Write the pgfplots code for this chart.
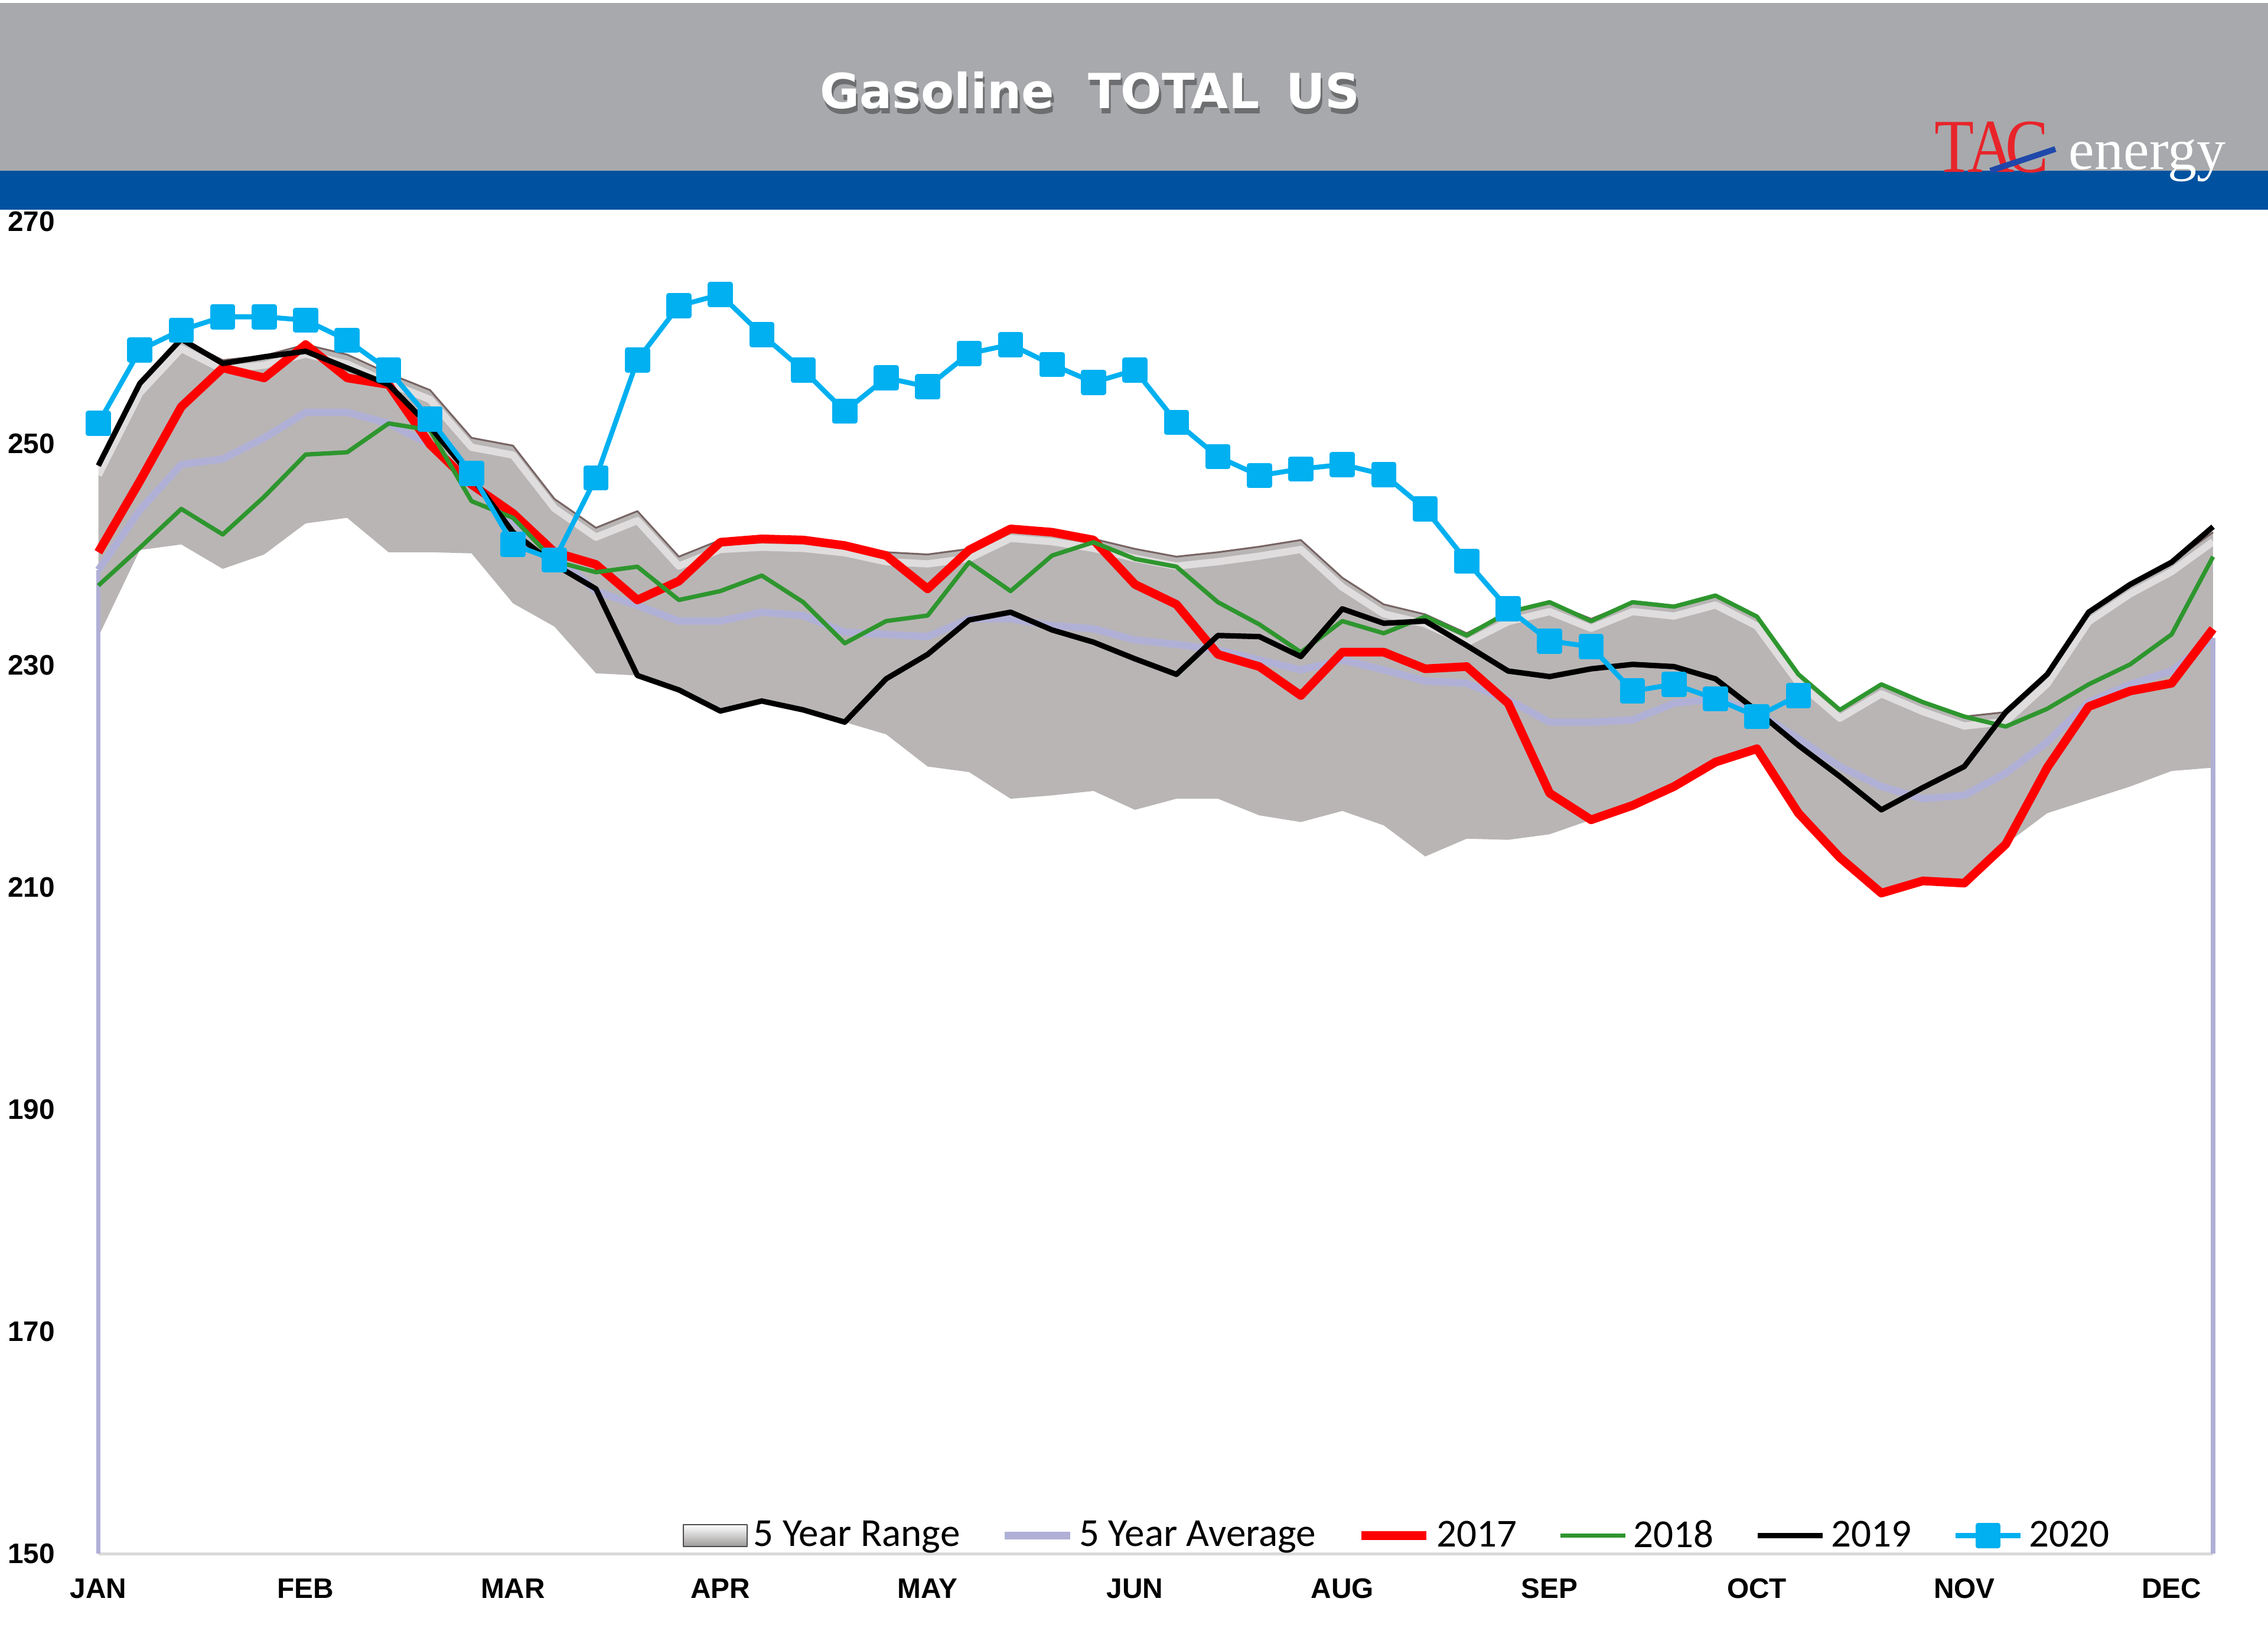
\documentclass[border=0pt]{standalone}
\usepackage{pgfplots}
\pgfplotsset{compat=1.18}
\usepackage{pgfplotstable}
\usepackage{fontspec}
\setmainfont{Liberation Sans}
\newfontfamily\titlefont{DejaVu Sans}
\newfontfamily\legfont{Carlito}
\newfontfamily\logofont{Liberation Serif}[FakeStretch=0.85]
\newfontfamily\logofontb{Liberation Serif}
\newcommand\tickfont{\fontsize{11.1}{13}\selectfont\bfseries}

\definecolor{hdrgray}{RGB}{167,169,172}
\definecolor{hdrblue}{RGB}{0,82,160}
\definecolor{rangegray}{RGB}{185,181,181}
\definecolor{rangeedge}{RGB}{120,100,100}
\definecolor{avgcol}{RGB}{176,176,214}
\definecolor{c17}{RGB}{255,0,0}
\definecolor{c18}{RGB}{46,150,46}
\definecolor{c20}{RGB}{0,176,240}
\definecolor{tacred}{RGB}{232,36,42}
\definecolor{tacblue}{RGB}{30,72,170}

\pgfplotstableread{
wk up lo avg r17 g18 b19 c20
0 248.0 232.6 238.6 240.2 237.2 248.0 251.8
1 255.4 240.4 244.0 246.6 240.6 255.4 258.4
2 259.4 240.9 248.1 253.3 244.1 259.4 260.2
3 257.5 238.7 248.6 256.8 241.8 257.2 261.4
4 257.9 240.0 250.5 255.9 245.2 257.8 261.4
5 258.9 242.8 252.8 258.9 249.0 258.3 261.1
6 258.0 243.3 252.8 255.9 249.2 256.8 259.3
7 256.3 240.2 251.8 255.3 251.8 255.3 256.6
8 254.8 240.2 249.9 249.9 251.2 251.5 252.2
9 250.5 240.1 246.5 246.3 244.8 247.0 247.3
10 249.8 235.6 243.0 243.7 243.3 242.0 240.9
11 245.0 233.5 240.0 240.2 239.4 239.1 239.5
12 242.4 229.3 236.7 239.1 238.4 236.9 246.9
13 243.9 229.1 235.4 235.9 238.9 229.1 257.5
14 239.8 227.8 234.0 237.6 235.9 227.8 262.4
15 241.3 225.9 234.0 241.1 236.7 225.9 263.4
16 241.5 226.8 234.8 241.4 238.1 226.8 259.8
17 241.4 226.0 234.5 241.3 235.7 226.0 256.6
18 241.0 224.9 233.0 240.8 232.0 224.9 252.9
19 240.2 223.8 232.8 239.9 234.0 228.8 255.9
20 240.0 220.9 232.6 236.9 234.5 231.0 255.1
21 240.5 220.4 234.2 240.4 239.3 234.1 258.1
22 242.3 218.0 234.2 242.3 236.7 234.8 258.9
23 242.0 218.3 233.6 242.0 239.9 233.2 257.1
24 241.4 218.7 233.3 241.3 241.1 232.1 255.5
25 240.5 217.0 232.3 237.3 239.6 230.6 256.6
26 239.8 218.0 231.9 235.5 238.9 229.2 251.9
27 240.2 218.0 231.4 231.0 235.7 232.7 248.8
28 240.7 216.5 230.5 229.9 233.7 232.6 247.1
29 241.3 215.9 229.6 227.3 231.2 230.8 247.7
30 237.9 216.9 230.5 231.2 234.0 235.1 248.1
31 235.5 215.6 229.6 231.2 232.9 233.8 247.2
32 234.6 212.8 228.6 229.7 234.4 234.0 244.1
33 232.9 214.4 228.4 229.9 232.7 231.8 239.4
34 234.8 214.3 226.9 226.6 234.8 229.5 235.1
35 235.7 214.8 224.9 218.5 235.7 229.0 232.2
36 234.2 216.1 224.9 216.1 234.0 229.7 231.7
37 235.7 217.4 225.1 217.4 235.7 230.1 227.7
38 235.3 219.1 226.6 219.1 235.3 229.9 228.3
39 236.3 221.3 227.0 221.3 236.3 228.8 227.0
40 234.4 222.5 225.8 222.5 234.4 225.9 225.4
41 229.3 216.7 223.4 216.7 229.2 222.8 227.3
42 226.1 212.7 220.9 212.7 226.0 220.0 nan
43 228.3 209.5 219.1 209.5 228.3 217.0 nan
44 226.7 210.6 218.0 210.6 226.7 219.0 nan
45 225.4 210.4 218.3 210.4 225.4 220.9 nan
46 225.8 213.9 220.3 213.9 224.5 225.8 nan
47 229.2 216.7 223.1 220.8 226.1 229.2 nan
48 234.8 217.9 226.7 226.3 228.3 234.8 nan
49 237.3 219.1 228.3 227.7 230.1 237.3 nan
50 239.3 220.5 229.5 228.4 232.8 239.3 nan
51 242.0 220.8 232.5 233.3 239.8 242.5 nan
}\data

% 5-year range polygon: upper edge forward, lower edge backward
\pgfplotstableread{
x y
0 248.0
1 255.4
2 259.4
3 257.5
4 257.9
5 258.9
6 258.0
7 256.3
8 254.8
9 250.5
10 249.8
11 245.0
12 242.4
13 243.9
14 239.8
15 241.3
16 241.5
17 241.4
18 241.0
19 240.2
20 240.0
21 240.5
22 242.3
23 242.0
24 241.4
25 240.5
26 239.8
27 240.2
28 240.7
29 241.3
30 237.9
31 235.5
32 234.6
33 232.9
34 234.8
35 235.7
36 234.2
37 235.7
38 235.3
39 236.3
40 234.4
41 229.3
42 226.1
43 228.3
44 226.7
45 225.4
46 225.8
47 229.2
48 234.8
49 237.3
50 239.3
51 242.0
51 220.8
50 220.5
49 219.1
48 217.9
47 216.7
46 213.9
45 210.4
44 210.6
43 209.5
42 212.7
41 216.7
40 222.5
39 221.3
38 219.1
37 217.4
36 216.1
35 214.8
34 214.3
33 214.4
32 212.8
31 215.6
30 216.9
29 215.9
28 216.5
27 218.0
26 218.0
25 217.0
24 218.7
23 218.3
22 218.0
21 220.4
20 220.9
19 223.8
18 224.9
17 226.0
16 226.8
15 225.9
14 227.8
13 229.1
12 229.3
11 233.5
10 235.6
9 240.1
8 240.2
7 240.2
6 243.3
5 242.8
4 240.0
3 238.7
2 240.9
1 240.4
0 232.6
}\rng

\begin{document}
\begin{tikzpicture}
\useasboundingbox (0,0) rectangle (313.6mm,-227.2mm);
\fill[white] (0,0) rectangle (313.6mm,-227.2mm);
% header
\fill[hdrgray] (0,-0.4mm) rectangle (313.6mm,-23.6mm);
\fill[hdrblue] (0,-23.6mm) rectangle (313.6mm,-29mm);
% title with shadow
\node[anchor=base, inner sep=0pt, text=black, opacity=0.35,
      font=\titlefont\bfseries\fontsize{19}{22}\selectfont]
  at (151.0mm,-15.7mm) {Gasoline\hspace{0.7em}TOTAL\hspace{0.55em}US};
\node[anchor=base, inner sep=0pt, text=white,
      font=\titlefont\bfseries\fontsize{19}{22}\selectfont]
  at (150.7mm,-15mm) {Gasoline\hspace{0.7em}TOTAL\hspace{0.55em}US};
% logo
\node[anchor=base west, inner sep=0pt, text=tacred,
      font=\logofont\fontsize{30}{32}\selectfont]
  at (267.4mm,-23.8mm) {T\kern-0.08em A\kern-0.12em C};
\node[anchor=base west, inner sep=0pt, text=white,
      font=\logofontb\fontsize{22.8}{25}\selectfont]
  at (286.0mm,-23.4mm) {energy};
\draw[tacblue, line width=0.8mm] (275.2mm,-23.6mm) -- (284.2mm,-20.6mm);

\begin{axis}[
  at={(13.6mm,-214.8mm)}, anchor=south west,
  scale only axis, width=292.4mm, height=184.2mm,
  xmin=0, xmax=51, ymin=150, ymax=270,
  clip=false,
  axis x line*=bottom, axis y line*=left,
  y axis line style={draw=none},
  x axis line style={draw=gray!30, line width=0.4mm},
  major tick length=0pt, tick style={draw=none},
  ytick={150,170,190,210,230,250,270},
  xtick={0,5,10,15,20,25,30,35,40,45,50},
  xticklabels={JAN,FEB,MAR,APR,MAY,JUN,AUG,SEP,OCT,NOV,DEC},
  ticklabel style={font=\tickfont},
  /pgf/number format/assume math mode=true,
  /pgf/number format/set thousands separator={},
  yticklabel style={anchor=west, inner sep=0pt, xshift=-12.6mm},
  xticklabel style={anchor=center, inner sep=0pt, yshift=-4.8mm},
  legend style={at={(0.2763,0.0136)}, anchor=west, draw=none, fill=none,
    inner sep=0pt, outer sep=0pt,
    font=\legfont\fontsize{15.6}{18}\selectfont,
    nodes={inner sep=0pt},
    /tikz/every odd column/.append style={column sep=0.8mm},
    /tikz/every even column/.append style={column sep=5.7mm}},
  legend columns=-1,
  legend image code/.code={\draw[mark repeat=2, mark phase=2, #1]
     plot coordinates {(0mm,0mm) (4.5mm,0mm) (9mm,0mm)};},
  every axis plot/.append style={line join=round},
]
\addplot[fill=rangegray, draw=none,
  legend image code/.code={\draw[draw=gray!60!black, line width=0.2mm,
     top color=white, bottom color=rangegray!85!black]
     (0mm,-1.5mm) rectangle (8.8mm,1.5mm);}]
  table[x=x,y=y]{\rng};
\addlegendentry{5 Year Range}
% bevel highlight under the upper edge of the range
\addplot[white, opacity=0.55, line width=1.0mm, forget plot]
  table[x=wk, y expr=\thisrow{up}-0.85]{\data};
\addplot[rangeedge, line width=0.25mm, forget plot] table[x=wk,y=up]{\data};
% 5 year average
\addplot[avgcol, line width=0.6mm, forget plot] coordinates {(0,150) (0,238.6)};
\addplot[avgcol, line width=0.6mm, forget plot] coordinates {(51,232.5) (51,150)};
\addplot[avgcol, line width=1.0mm] table[x=wk,y=avg]{\data};
\addlegendentry{5 Year Average}
\addplot[c17, line width=1.2mm] table[x=wk,y=r17]{\data};
\addlegendentry{2017}
\addplot[c18, line width=0.6mm] table[x=wk,y=g18]{\data};
\addlegendentry{2018}
\addplot[black, line width=0.75mm] table[x=wk,y=b19]{\data};
\addlegendentry{2019}
\addplot[c20, line width=0.68mm, mark=square*, mark size=1.4mm,
  mark options={solid, fill=c20, draw=c20}] table[x=wk,y=c20]{\data};
\addlegendentry{2020}
\end{axis}
\end{tikzpicture}
\end{document}
